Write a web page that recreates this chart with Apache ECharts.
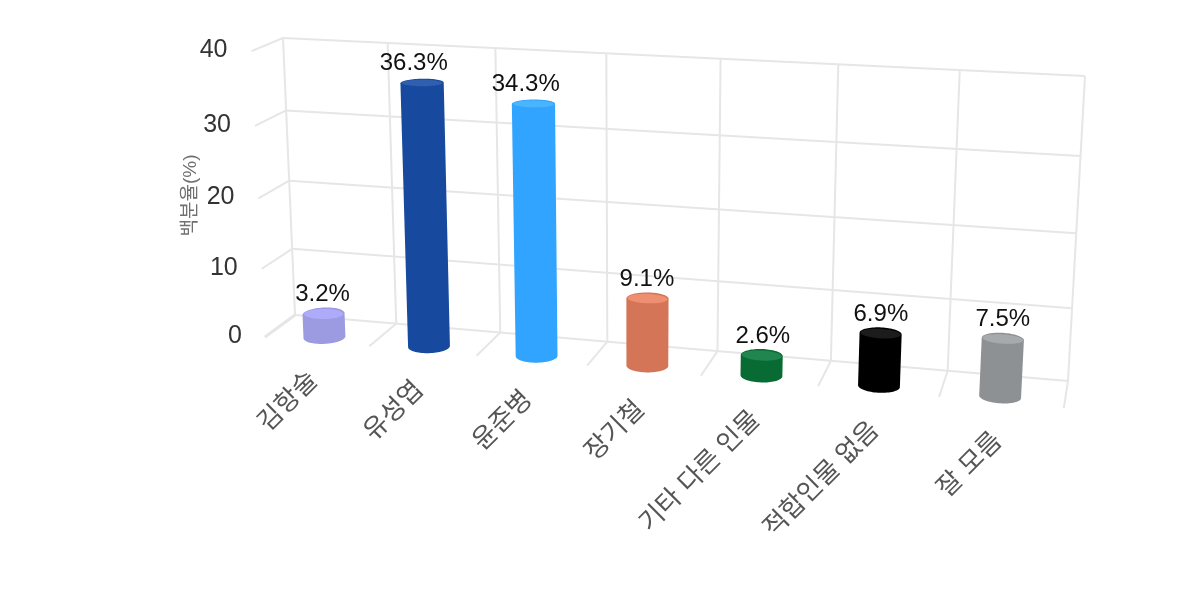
<!DOCTYPE html>
<html><head><meta charset="utf-8">
<style>html,body{margin:0;padding:0;background:#fff}#c{width:1200px;height:600px}</style>
<script src="https://cdn.jsdelivr.net/npm/echarts@6/dist/echarts.min.js"></script>
</head><body><div id="c"></div>
<script>
const categories = ['김항술','유성엽','윤준병','장기철','기타 다른 인물','적합인물 없음','잘 모름'];
const values = [3.2,36.3,34.3,9.1,2.6,6.9,7.5];
const yTicks = [0,10,20,30,40];
const yTitle = '백분율(%)';
const bodyColors = ['#9c9ae0','#174a9e','#31a4ff','#d47557','#076b33','#000000','#8e9194'];
const topColors = ['#aeacfa','#2f5fae','#4bb4ff','#ee8f71','#218550','#1c1c1c','#a6aaad'];
const labelNudge = [-1,-8.3,-7.7,-0.5,1,0.3,0];

// frame of the 3D box in the picture: back wall and front edge corners
const frame = {bl:[295,315],br:[1068,381],tl:[283,38],tr:[1085,76],fbl:[265,337],fbr:[1063,407],ftl:[250,51]};
const barZ = 0.8, barRadius = 21, barRadiusZ = 6.5, barInset = 0.006, verticalBow = 0.025, barRise = 0.004;

function solve(M,b){const n=b.length,a=M.map((r,i)=>r.concat([b[i]]));
 for(let i=0;i<n;i++){let p=i;for(let r=i+1;r<n;r++)if(Math.abs(a[r][i])>Math.abs(a[p][i]))p=r;[a[i],a[p]]=[a[p],a[i]];
  for(let r=0;r<n;r++)if(r!==i){const f=a[r][i]/a[i][i];for(let c=i;c<=n;c++)a[r][c]-=f*a[i][c];}}
 return a.map((r,i)=>r[n]/r[i]);}
const h=p=>[p[0],p[1],1];
function buildCamera(){
 const p0=h(frame.bl),p1=h(frame.br),p2=h(frame.tr),p3=h(frame.tl);
 const s=solve([0,1,2].map(i=>[p1[i],p3[i],-p0[i]]),p2);
 const D=p0.map(v=>v*s[2]),A=p1.map((v,i)=>v*s[0]-D[i]),B=p3.map((v,i)=>v*s[1]-D[i]);
 const f0=h(frame.fbl),f1=h(frame.fbr),f3=h(frame.ftl),W=[1,1,500];
 const rows=[],rhs=[];
 for(let i=0;i<3;i++){rows.push([-f0[i]*W[i],f1[i]*W[i],0]);rhs.push(A[i]*W[i]);rows.push([-f0[i]*W[i],0,f3[i]*W[i]]);rhs.push(B[i]*W[i]);}
 const N=[0,1,2].map(a=>[0,1,2].map(b=>rows.reduce((t,r)=>t+r[a]*r[b],0)));
 const y=[0,1,2].map(a=>rows.reduce((t,r,k)=>t+r[a]*rhs[k],0));
 const q=solve(N,y);
 const C=f0.map((v,i)=>v*q[0]-D[i]);
 return {A,B,C,D};
}
const cam=buildCamera();
function project(u,v,z){const o=[0,1,2].map(i=>u*cam.A[i]+v*cam.B[i]+z*cam.C[i]+cam.D[i]);return [o[0]/o[2],o[1]/o[2]];}
function rawNorm(params,api,cat,val){const p=api.coord([cat,val]),c=params.coordSys;return [(p[0]-c.x)/c.width,(c.y+c.height-p[1])/c.height];}
function norm(params,api,cat,val){const n=rawNorm(params,api,cat,val),v=n[1];return [n[0],v-verticalBow*v*(1-v)];}
function hull(pts){pts=pts.slice().sort((a,b)=>a[0]-b[0]||a[1]-b[1]);
 const cross=(o,a,b)=>(a[0]-o[0])*(b[1]-o[1])-(a[1]-o[1])*(b[0]-o[0]);
 const lo=[],up=[];
 for(const p of pts){while(lo.length>1&&cross(lo[lo.length-2],lo[lo.length-1],p)<=0)lo.pop();lo.push(p);}
 for(const p of pts.slice().reverse()){while(up.length>1&&cross(up[up.length-2],up[up.length-1],p)<=0)up.pop();up.push(p);}
 return lo.slice(0,-1).concat(up.slice(0,-1));}

const gridStyle={stroke:'#e6e6e6',lineWidth:2,fill:null};
const axisFont='"Liberation Sans",Arial,sans-serif', cjk='"Liberation Sans","Noto Sans CJK KR",sans-serif';
function line(a,b,w){return {type:'line',shape:{x1:a[0],y1:a[1],x2:b[0],y2:b[1]},style:w?Object.assign({},gridStyle,{lineWidth:w}):gridStyle,silent:true};}

function renderFrame(params,api){
 const kids=[];
 const zeroU=norm(params,api,0,0),bw=api.size([1,0])[0]/params.coordSys.width;
 const v0=zeroU[1];
 yTicks.forEach(t=>{
  const v=norm(params,api,0,t)[1];
  const L=project(0,v,0),R=project(1,v,0),F=project(0,v,1);
  kids.push(line(L,R),line(L,F,t===0?3:2));
  kids.push({type:'text',x:F[0]-(t===0?23:24),y:F[1]-1,silent:true,style:{text:String(t),align:'right',verticalAlign:'middle',fontSize:25,fontFamily:axisFont,fill:'#333333'}});
 });
 const vTop=norm(params,api,0,yTicks[yTicks.length-1])[1];
 for(let i=0;i<=categories.length;i++){
  const u=zeroU[0]-bw/2+i*bw;
  kids.push(line(project(u,v0,0),project(u,vTop,0)),line(project(u,v0,0),project(u,v0,1)));
 }
 kids.push({type:'text',x:191,y:195.5,rotation:Math.PI/2,silent:true,style:{text:yTitle,align:'center',verticalAlign:'middle',fontSize:19,fontFamily:cjk,fill:'#707070'}});
 categories.forEach((name,i)=>{
  const p=norm(params,api,i,0),a=project(p[0],p[1],1);
  kids.push({type:'text',x:a[0]-3,y:a[1]+35,rotation:Math.PI/4,silent:true,style:{text:name,align:'right',verticalAlign:'middle',fontSize:26,fontFamily:cjk,fill:'#555555'}});
 });
 return {type:'group',children:kids};
}
function renderBar(params,api){
 const i=api.value(0),val=api.value(1);
 const b=norm(params,api,i,0),t=rawNorm(params,api,i,val),e=1e-3;
 t[1]+=barRise;
 b[0]=t[0]=0.5+(b[0]-0.5)*(1-barInset);
 const d0=project(b[0],b[1],barZ),dU=project(b[0]+e,b[1],barZ),dZ=project(b[0],b[1],barZ+e);
 const rz=barRadiusZ*e/Math.abs(dZ[1]-d0[1]);
 const skewX=(dZ[0]-d0[0])/e*rz;
 const ru=Math.sqrt(Math.max(1,barRadius*barRadius-skewX*skewX))*e/Math.hypot(dU[0]-d0[0],dU[1]-d0[1]);
 const ring=(c,kU,kZ)=>{const r=[];for(let k=0;k<72;k++){const a=k/72*2*Math.PI;r.push(project(c[0]+ru*kU*Math.cos(a),c[1],barZ+rz*kZ*Math.sin(a)));}return r;};
 const body=hull(ring(b,1,1).concat(ring(t,1,1)));
 const face=ring(t,0.96,0.76);
 const top=project(t[0],t[1],barZ);
 return {type:'group',children:[
  {type:'polygon',shape:{points:body},style:{fill:bodyColors[i]},silent:true},
  {type:'polygon',shape:{points:face},style:{fill:topColors[i]},silent:true},
  {type:'text',x:top[0]+labelNudge[i],y:top[1]-19.5,silent:true,style:{text:val.toFixed(1)+'%',align:'center',verticalAlign:'middle',fontSize:24,fontFamily:axisFont,fill:'#111111'}}
 ]};
}
const chart=echarts.init(document.getElementById('c'),null,{renderer:'canvas'});
chart.setOption({
 animation:false,backgroundColor:'#ffffff',
 grid:{left:100,right:100,top:100,bottom:100},
 xAxis:{type:'category',data:categories,show:false},
 yAxis:{type:'value',min:0,max:40,interval:10,show:false},
 tooltip:{show:false},
 series:[
  {type:'custom',renderItem:renderFrame,data:[[0,0]],encode:{x:0,y:1},clip:false,z:1},
  {type:'custom',renderItem:renderBar,data:values.map((v,i)=>[i,v]),encode:{x:0,y:1},clip:false,z:2}
 ]
});
</script></body></html>
